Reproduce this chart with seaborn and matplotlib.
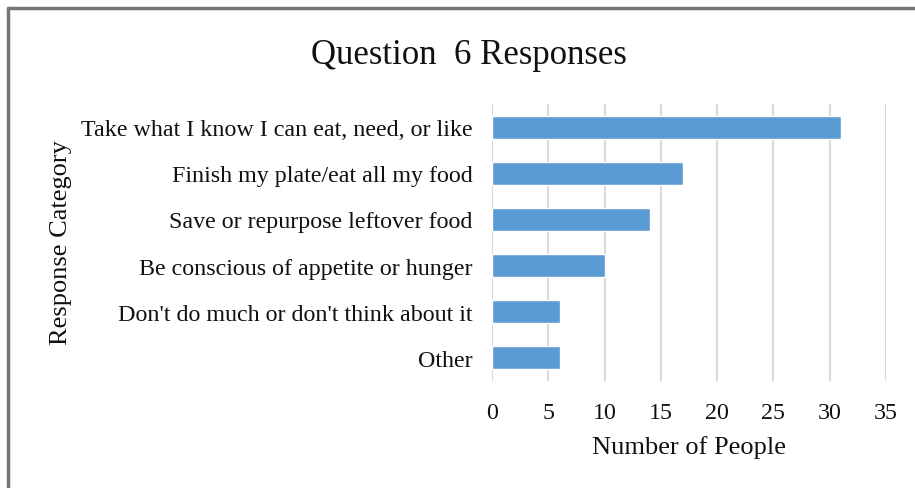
import matplotlib
matplotlib.use("Agg")
import matplotlib.pyplot as plt
from matplotlib.lines import Line2D
import seaborn as sns
import pandas as pd

categories = [
    "Take what I know I can eat, need, or like",
    "Finish my plate/eat all my food",
    "Save or repurpose leftover food",
    "Be conscious of appetite or hunger",
    "Don't do much or don't think about it",
    "Other",
]
counts = [31, 17, 14, 10, 6, 6]
x_ticks = [0, 5, 10, 15, 20, 25, 30, 35]

sns.set_theme(style="white")
plt.rcParams["font.family"] = ["Liberation Serif", "DejaVu Serif"]

df = pd.DataFrame({"category": categories, "count": counts})

fig = plt.figure(figsize=(9.15, 4.89), dpi=100)
ax = fig.add_axes([0.5377, 0.2188, 0.4306, 0.5665])

sns.barplot(data=df, x="count", y="category", orient="h", color="#5B9BD5",
            width=0.5, saturation=1, ax=ax, zorder=3)

ax.set_xlim(0, 35)
ax.set_ylim(5.5, -0.5)
ax.set_xticks(x_ticks)
ax.set_xticklabels([str(t) for t in x_ticks])
ax.xaxis.grid(True, color="#D9D9D9", linewidth=1.5, zorder=0)
ax.yaxis.grid(False)
for s in ax.spines.values():
    s.set_visible(False)
ax.tick_params(axis="both", length=0, labelsize=17.3, colors="#111111")
ax.tick_params(axis="x", pad=15)
ax.tick_params(axis="y", pad=14)

ax.set_xlabel("Number of People", fontsize=19, color="#111111", labelpad=9)
ax.set_ylabel("")
fig.text(0.0665, 0.503, "Response Category", rotation=90, ha="center", va="center",
         fontsize=19, color="#111111")
fig.text(0.512, 0.887, "Question  6 Responses", ha="center", va="center",
         fontsize=25, color="#111111")

# chart frame (top and left edges)
fig.add_artist(Line2D([0.0087, 1.0], [0.9816, 0.9816], transform=fig.transFigure,
                      color="#767676", linewidth=2.5))
fig.add_artist(Line2D([0.0087, 0.0087], [0.0, 0.9816], transform=fig.transFigure,
                      color="#767676", linewidth=2.5))

fig.savefig("out.png", dpi=100, facecolor="white")
